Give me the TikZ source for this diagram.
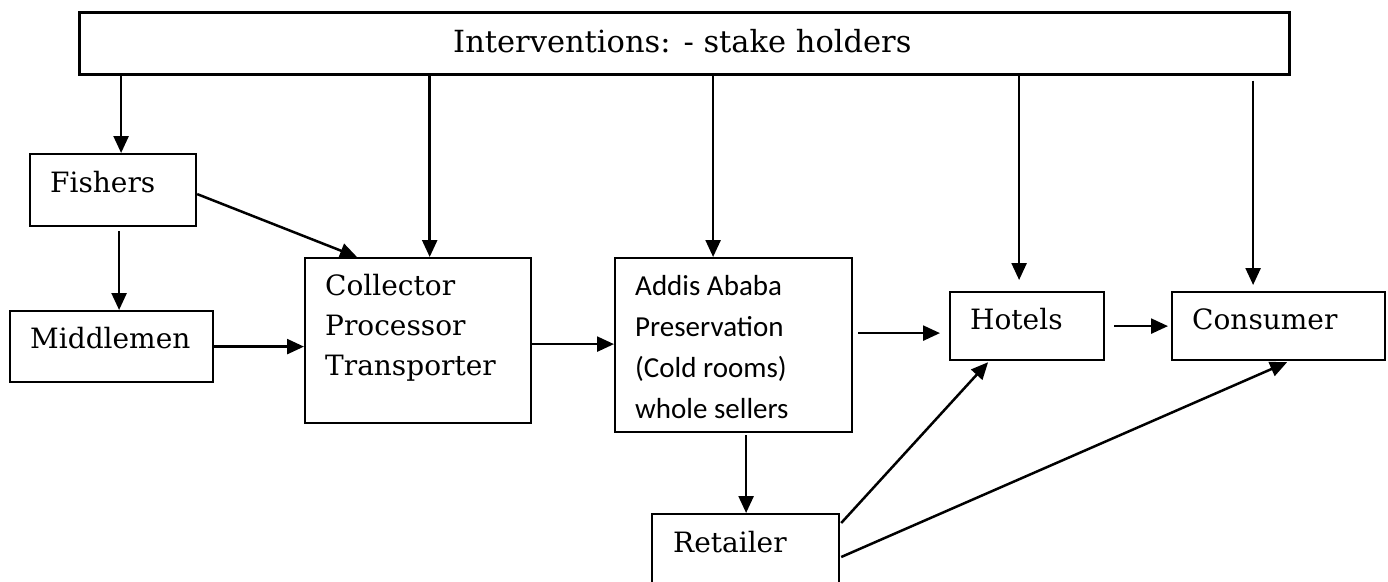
\documentclass[tikz,border=0pt]{standalone}
\usepackage{fontspec}
\setmainfont{DejaVu Serif}
\newfontfamily\carl{Carlito}
\usetikzlibrary{arrows.meta}
\tikzset{
  box/.style={draw=black, line width=2.2pt, inner sep=0pt, anchor=north west, fill=white},
  lbl/.style={inner sep=0pt, anchor=base west, font=\fontsize{28}{40}\selectfont},
  arr/.style={line width=2.5pt, -{Triangle[length=17pt,width=15pt]}}
}
\begin{document}
\begin{tikzpicture}[x=1pt,y=-1pt]
\clip (0,0) rectangle (1388,581);
\fill[white] (0,0) rectangle (1388,581);
% boxes
\node[box, line width=2.6pt, minimum width=1210pt, minimum height=62pt] (top) at (78,11) {};
\node[box, minimum width=166pt, minimum height=72pt] (fish) at (29,153) {};
\node[box, minimum width=203pt, minimum height=71pt] (mid) at (9,310) {};
\node[box, minimum width=226pt, minimum height=165pt] (coll) at (304,257) {};
\node[box, minimum width=237pt, minimum height=174pt] (addis) at (614,257) {};
\node[box, minimum width=154pt, minimum height=68pt] (hotels) at (949,291) {};
\node[box, minimum width=213pt, minimum height=68pt] (cons) at (1171,291) {};
\node[box, minimum width=187pt, minimum height=90pt] (ret) at (651,513) {};
% texts
\node[lbl, font=\fontsize{30.5}{40}\selectfont] (ttop) at (453,52) {Interventions: - stake holders};
\node[lbl] (tfish) at (50,192) {Fishers};
\node[lbl] (tmid) at (30,348) {Middlemen};
\node[lbl, align=left] (tcoll) at (325,375) {Collector\\Processor\\Transporter};
\node[lbl, align=left, font=\carl\fontsize{29}{40.7}\selectfont] (taddis) at (635,418) {Addis Ababa\\Preservation\\(Cold rooms)\\whole sellers};
\node[lbl] (thotels) at (970,329) {Hotels};
\node[lbl] (tcons) at (1192,329) {Consumer};
\node[lbl] (tret) at (673,552) {Retailer};
% connectors
\draw[arr] ([xshift=8pt]fish.north |- top.south) -- ([xshift=8pt]fish.north);
\draw[arr] ([xshift=11.6pt]coll.north |- top.south) -- ([xshift=11.6pt]coll.north);
\draw[arr] ([xshift=-20.5pt]addis.north |- top.south) -- ([xshift=-20.5pt]addis.north);
\draw[arr] ([xshift=-8pt]hotels.north |- top.south) -- ([xshift=-8pt,yshift=11pt]hotels.north);
\draw[arr] ([xshift=-25.5pt,yshift=-5pt]cons.north |- top.south) -- ([xshift=-25.5pt,yshift=6pt]cons.north);
\draw[arr] ([yshift=-4pt]fish.east) -- ([xshift=53pt]coll.north west);
\draw[arr] ([xshift=6pt,yshift=-4pt]fish.south) -- ([xshift=6pt]fish.south |- mid.north);
\draw[arr] (mid.east) -- (mid.east -| coll.west);
\draw[arr] ([xshift=-2pt,yshift=-3.5pt]coll.east) -- ([yshift=-3.5pt]coll.east -| addis.west);
\draw[arr] ([xshift=5pt,yshift=12pt]addis.east) -- ([xshift=-9pt,yshift=12pt]addis.east -| hotels.west);
\draw[arr] ([xshift=9pt]hotels.east) -- ([xshift=-3pt]hotels.east -| cons.west);
\draw[arr] ([xshift=12.5pt,yshift=-2pt]addis.south) -- ([xshift=12.5pt]addis.south |- ret.north);
\draw[arr] ([xshift=1pt,yshift=-10pt]ret.north east) -- ([xshift=-39pt,yshift=-1pt]hotels.south);
\draw[arr] ([xshift=1pt,yshift=-44pt]ret.north east) -- ([xshift=8.5pt,yshift=-1pt]cons.south);
\end{tikzpicture}
\end{document}
